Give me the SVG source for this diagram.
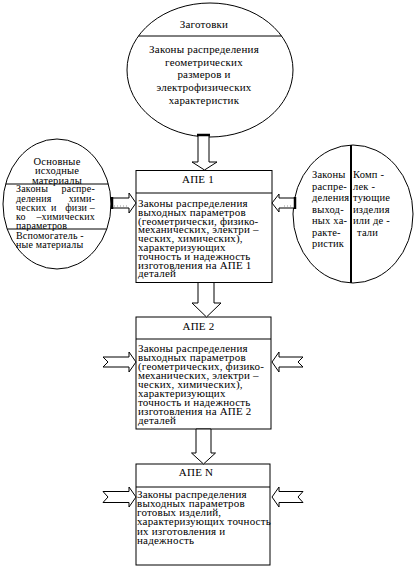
<svg xmlns="http://www.w3.org/2000/svg" width="418" height="577" viewBox="0 0 418 577">
<style>
  text { font-family: "Liberation Serif", "Times New Roman", serif; font-size: 11px; letter-spacing: 0.2px; fill: #000; }
  .c { text-anchor: middle; }
  .e { text-anchor: end; }
  .s10 text { font-size: 10px; }
  .s105 text { font-size: 10.5px; }
  .shape { fill: #fff; stroke: #000; stroke-width: 1; }
  .sep { stroke: #000; stroke-width: 1; fill: none; }
  .arrow { fill: #fff; stroke: #000; stroke-width: 1; stroke-linejoin: miter; }
  .tail { stroke: #000; stroke-width: 2.5; }
  .dot { stroke: #999; stroke-width: 1; stroke-dasharray: 1 2; }
</style>
<rect width="418" height="577" fill="#fff"/>

<g id="zagotovki">
  <ellipse class="shape" cx="210" cy="70" rx="83" ry="67"/>
  <line class="sep" x1="138.5" y1="36" x2="281.5" y2="36"/>
  <text class="c" x="204" y="28">Заготовки</text>
  <text class="c" x="204" y="53">Законы распределения</text>
  <text class="c" x="204" y="66">геометрических</text>
  <text class="c" x="204" y="78">размеров и</text>
  <text class="c" x="204" y="91">электрофизических</text>
  <text class="c" x="204" y="104">характеристик</text>
</g>

<g id="osnovnye-materialy" class="s10">
  <ellipse class="shape" cx="57" cy="204" rx="54" ry="65"/>
  <line class="sep" x1="5.6" y1="184" x2="108.4" y2="184"/>
  <line class="sep" x1="7.2" y1="229" x2="106.8" y2="229"/>
  <text class="c" x="57" y="165" style="font-size:10.5px">Основные</text>
  <text class="c" x="57" y="174" style="font-size:10.5px">исходные</text>
  <text class="c" x="57" y="183.5" style="font-size:10.5px">материалы</text>
  <text x="16" y="192">Законы</text><text class="e" x="95" y="192">распре-</text>
  <text x="16" y="201.5">деления</text><text class="e" x="95" y="201.5">хими-</text>
  <text x="16" y="211">ческих</text><text x="51" y="211">и</text><text class="e" x="95" y="211">физи –</text>
  <text x="16" y="220">ко</text><text class="e" x="95" y="220">–химических</text>
  <text x="16" y="228.5">параметров</text>
  <text x="16" y="238.5">Вспомогатель -</text>
  <text x="16" y="248">ные материалы</text>
</g>

<g id="zakony-komplektuyushchie" class="s105">
  <ellipse class="shape" cx="353" cy="214" rx="60" ry="69"/>
  <line x1="351" y1="145" x2="351" y2="283" stroke="#000" stroke-width="2"/>
  <text x="312" y="178">Законы</text>
  <text x="312" y="189.5">распре-</text>
  <text x="312" y="201">деления</text>
  <text x="312" y="212.5">выход-</text>
  <text x="312" y="224">ных ха-</text>
  <text x="312" y="235.5">ракте-</text>
  <text x="312" y="247">ристик</text>
  <text x="353" y="178">Комп -</text>
  <text x="353" y="189.5">лек -</text>
  <text x="353" y="201">тующие</text>
  <text x="353" y="212.5">изделия</text>
  <text x="353" y="224">или де -</text>
  <text x="357" y="235.5">тали</text>
</g>

<g id="ape1">
  <rect class="shape" x="136" y="170.5" width="136" height="112"/>
  <line class="sep" x1="136" y1="193" x2="272" y2="193"/>
  <text class="c" x="198" y="183">АПЕ 1</text>
  <text x="138" y="207">Законы распределения</text>
  <text x="138" y="215.8">выходных параметров</text>
  <text x="138" y="224.6">(геометрически, физико-</text>
  <text x="138" y="233.4">механических, электри –</text>
  <text x="138" y="242.2">ческих, химических),</text>
  <text x="138" y="251">характеризующих</text>
  <text x="138" y="259.8">точность и надежность</text>
  <text x="138" y="268.6">изготовления  на АПЕ 1</text>
  <text x="138" y="277.4">деталей</text>
</g>

<g id="ape2">
  <rect class="shape" x="136" y="317" width="135" height="112"/>
  <line class="sep" x1="136" y1="339" x2="271" y2="339"/>
  <text class="c" x="198.5" y="330">АПЕ 2</text>
  <text x="138" y="352">Законы распределения</text>
  <text x="138" y="361">выходных параметров</text>
  <text x="138" y="370">(геометрических, физико-</text>
  <text x="138" y="379">механических, электри –</text>
  <text x="138" y="388">ческих, химических),</text>
  <text x="138" y="397">характеризующих</text>
  <text x="138" y="406">точность и надежность</text>
  <text x="138" y="415">изготовления  на АПЕ 2</text>
  <text x="138" y="424">деталей</text>
</g>

<g id="apen">
  <rect class="shape" x="136" y="464" width="134" height="101"/>
  <line class="sep" x1="136" y1="487" x2="270" y2="487"/>
  <text class="c" x="196" y="476">АПЕ N</text>
  <text x="137" y="497.5">Законы распределения</text>
  <text x="137" y="506.8">выходных параметров</text>
  <text x="137" y="516.1">готовых изделий,</text>
  <text x="137" y="525.4">характеризующих точность</text>
  <text x="137" y="534.7">их изготовления и</text>
  <text x="137" y="544">надежность</text>
</g>

<g id="connectors">
  <polygon class="arrow" points="198,135 209,135 209,162 217,162 204.5,170 192,162 198,162"/>
  <line class="tail" x1="197" y1="135" x2="210" y2="135"/>

  <polygon class="arrow" points="198,282.5 214,282.5 214,303 221,303 206.5,317 192,303 198,303"/>
  <polygon class="arrow" points="196,429 211,429 211,453 215.5,453 203.5,464 191.5,453 196,453"/>

  <polygon class="arrow" points="112,198 129,198 129,193 136,203 129,213 129,208 112,208"/>
  <line class="tail" x1="112" y1="197" x2="112" y2="209"/>
  <line class="dot" x1="114" y1="206" x2="128" y2="206"/>
  <polygon class="arrow" points="295,198 279,198 279,194 272,203 279,212 279,208 295,208"/>
  <line class="tail" x1="295" y1="197" x2="295" y2="209"/>
  <line class="dot" x1="284" y1="206" x2="293" y2="206"/>

  <polygon class="arrow" points="103,357 129,357 129,352 136,362 129,372 129,367 103,367 108,362"/>
  <polygon class="arrow" points="303,357 279,357 279,352 272,362 279,372 279,367 303,367 298,362"/>

  <polygon class="arrow" points="103,491.5 129,491.5 129,487 136,497 129,507 129,502.5 103,502.5 108,497"/>
  <polygon class="arrow" points="303,491.5 279,491.5 279,487 272,497 279,507 279,502.5 303,502.5 298,497"/>
</g>
</svg>
